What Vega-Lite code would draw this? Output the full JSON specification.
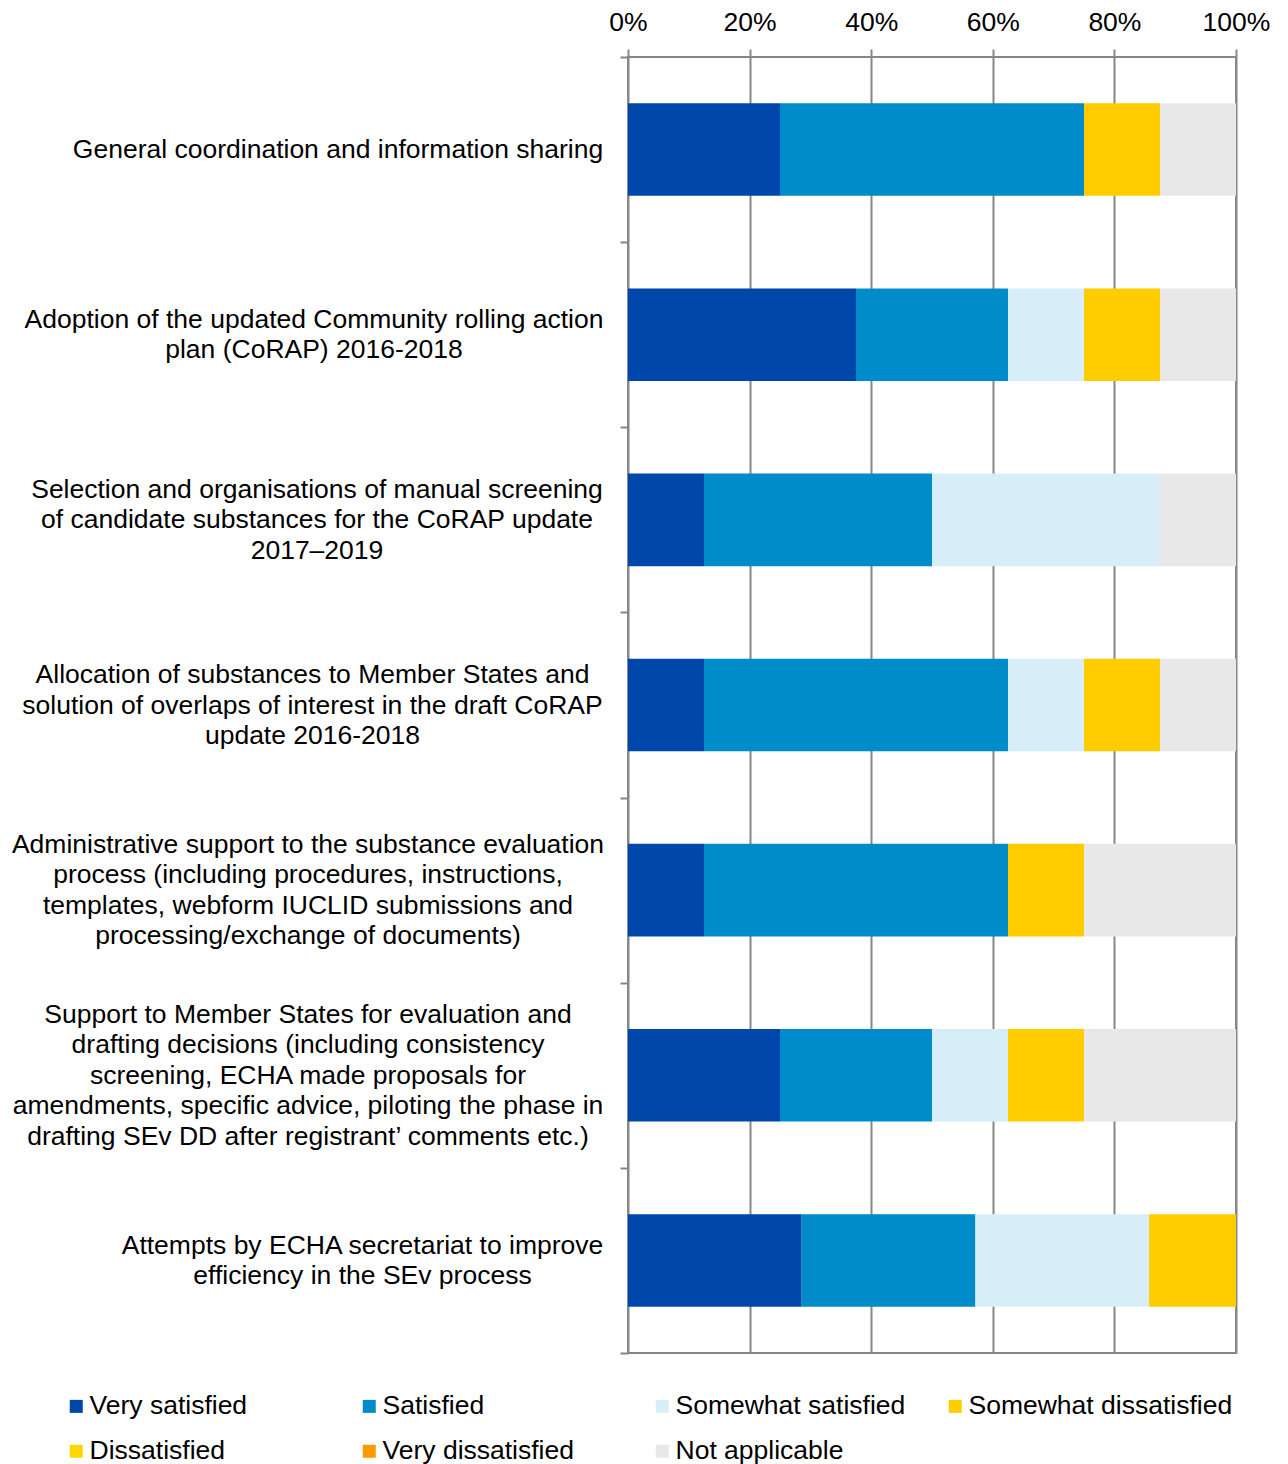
{
  "$schema": "https://vega.github.io/schema/vega-lite/v6.json",
  "width": 608,
  "height": 1296,
  "autosize": {"type": "none"},
  "padding": {"left": 628, "top": 57, "right": 52, "bottom": 111},
  "background": "white",
  "config": {"font": "Liberation Sans", "view": {"stroke": "#878787", "strokeWidth": 2}},
  "data": {"values": [
    {"task": "General coordination and information sharing", "rating": "Very satisfied", "pct": 25},
    {"task": "General coordination and information sharing", "rating": "Satisfied", "pct": 50},
    {"task": "General coordination and information sharing", "rating": "Somewhat dissatisfied", "pct": 12.5},
    {"task": "General coordination and information sharing", "rating": "Not applicable", "pct": 12.5},
    {"task": "Adoption of the updated Community rolling action|plan (CoRAP) 2016-2018", "rating": "Very satisfied", "pct": 37.5},
    {"task": "Adoption of the updated Community rolling action|plan (CoRAP) 2016-2018", "rating": "Satisfied", "pct": 25},
    {"task": "Adoption of the updated Community rolling action|plan (CoRAP) 2016-2018", "rating": "Somewhat satisfied", "pct": 12.5},
    {"task": "Adoption of the updated Community rolling action|plan (CoRAP) 2016-2018", "rating": "Somewhat dissatisfied", "pct": 12.5},
    {"task": "Adoption of the updated Community rolling action|plan (CoRAP) 2016-2018", "rating": "Not applicable", "pct": 12.5},
    {"task": "Selection and organisations of manual screening|of candidate substances for the CoRAP update|2017–2019", "rating": "Very satisfied", "pct": 12.5},
    {"task": "Selection and organisations of manual screening|of candidate substances for the CoRAP update|2017–2019", "rating": "Satisfied", "pct": 37.5},
    {"task": "Selection and organisations of manual screening|of candidate substances for the CoRAP update|2017–2019", "rating": "Somewhat satisfied", "pct": 37.5},
    {"task": "Selection and organisations of manual screening|of candidate substances for the CoRAP update|2017–2019", "rating": "Not applicable", "pct": 12.5},
    {"task": "Allocation of substances to Member States and|solution of overlaps of interest in the draft CoRAP|update 2016-2018", "rating": "Very satisfied", "pct": 12.5},
    {"task": "Allocation of substances to Member States and|solution of overlaps of interest in the draft CoRAP|update 2016-2018", "rating": "Satisfied", "pct": 50},
    {"task": "Allocation of substances to Member States and|solution of overlaps of interest in the draft CoRAP|update 2016-2018", "rating": "Somewhat satisfied", "pct": 12.5},
    {"task": "Allocation of substances to Member States and|solution of overlaps of interest in the draft CoRAP|update 2016-2018", "rating": "Somewhat dissatisfied", "pct": 12.5},
    {"task": "Allocation of substances to Member States and|solution of overlaps of interest in the draft CoRAP|update 2016-2018", "rating": "Not applicable", "pct": 12.5},
    {"task": "Administrative support to the substance evaluation|process (including procedures, instructions,|templates, webform IUCLID submissions and|processing/exchange of documents)", "rating": "Very satisfied", "pct": 12.5},
    {"task": "Administrative support to the substance evaluation|process (including procedures, instructions,|templates, webform IUCLID submissions and|processing/exchange of documents)", "rating": "Satisfied", "pct": 50},
    {"task": "Administrative support to the substance evaluation|process (including procedures, instructions,|templates, webform IUCLID submissions and|processing/exchange of documents)", "rating": "Somewhat dissatisfied", "pct": 12.5},
    {"task": "Administrative support to the substance evaluation|process (including procedures, instructions,|templates, webform IUCLID submissions and|processing/exchange of documents)", "rating": "Not applicable", "pct": 25},
    {"task": "Support to Member States for evaluation and|drafting decisions (including consistency|screening, ECHA made proposals for|amendments, specific advice, piloting the phase in|drafting SEv DD after registrant’ comments etc.)", "rating": "Very satisfied", "pct": 25},
    {"task": "Support to Member States for evaluation and|drafting decisions (including consistency|screening, ECHA made proposals for|amendments, specific advice, piloting the phase in|drafting SEv DD after registrant’ comments etc.)", "rating": "Satisfied", "pct": 25},
    {"task": "Support to Member States for evaluation and|drafting decisions (including consistency|screening, ECHA made proposals for|amendments, specific advice, piloting the phase in|drafting SEv DD after registrant’ comments etc.)", "rating": "Somewhat satisfied", "pct": 12.5},
    {"task": "Support to Member States for evaluation and|drafting decisions (including consistency|screening, ECHA made proposals for|amendments, specific advice, piloting the phase in|drafting SEv DD after registrant’ comments etc.)", "rating": "Somewhat dissatisfied", "pct": 12.5},
    {"task": "Support to Member States for evaluation and|drafting decisions (including consistency|screening, ECHA made proposals for|amendments, specific advice, piloting the phase in|drafting SEv DD after registrant’ comments etc.)", "rating": "Not applicable", "pct": 25},
    {"task": "Attempts by ECHA secretariat to improve|efficiency in the SEv process", "rating": "Very satisfied", "pct": 28.57},
    {"task": "Attempts by ECHA secretariat to improve|efficiency in the SEv process", "rating": "Satisfied", "pct": 28.57},
    {"task": "Attempts by ECHA secretariat to improve|efficiency in the SEv process", "rating": "Somewhat satisfied", "pct": 28.57},
    {"task": "Attempts by ECHA secretariat to improve|efficiency in the SEv process", "rating": "Somewhat dissatisfied", "pct": 14.29}
  ]},
  "transform": [
    {"calculate": "indexof(['Very satisfied', 'Satisfied', 'Somewhat satisfied', 'Somewhat dissatisfied', 'Dissatisfied', 'Very dissatisfied', 'Not applicable'], datum.rating)", "as": "ratingOrder"}
  ],
  "mark": {"type": "bar", "height": {"band": 0.5}},
  "encoding": {
    "y": {
      "field": "task", "type": "nominal", "sort": null,
      "scale": {"paddingInner": 0, "paddingOuter": 0},
      "axis": {
        "title": null, "domain": false, "grid": false,
        "ticks": true, "tickBand": "extent", "tickSize": 8, "tickColor": "#878787", "tickWidth": 2,
        "labelExpr": "split(datum.label, '|')",
        "labelAlign": "center", "labelBaseline": "middle",
        "labelPadding": {"expr": "[282.5,306.5,303.5,308,312.5,312.5,258][round(datum.index*6)]"},
        "labelOffset": {"expr": "[0,-15.25,-30.5,-30.5,-45.75,-61,-15.25][round(datum.index*6)]"},
        "labelFontSize": 26.5, "labelColor": "black", "labelLimit": 0, "labelLineHeight": 30.5,
        "labelOverlap": false, "labelBound": false
      }
    },
    "x": {
      "field": "pct", "type": "quantitative", "stack": "zero",
      "scale": {"domain": [0, 100], "nice": false},
      "axis": {
        "orient": "top", "title": null, "values": [0, 20, 40, 60, 80, 100],
        "labelExpr": "datum.value + '%'", "labelFlush": false,
        "grid": true, "gridColor": "#878787", "gridWidth": 2,
        "domain": false, "ticks": true, "tickSize": 8, "tickColor": "#878787", "tickWidth": 2,
        "labelFontSize": 26.5, "labelPadding": 13, "labelColor": "black"
      }
    },
    "order": {"field": "ratingOrder", "type": "quantitative"},
    "color": {
      "field": "rating", "type": "nominal",
      "scale": {
        "domain": ["Very satisfied", "Satisfied", "Somewhat satisfied", "Somewhat dissatisfied", "Dissatisfied", "Very dissatisfied", "Not applicable"],
        "range": ["#0047AB", "#008BCA", "#D7EEF9", "#FFCC00", "#FFD700", "#FF9900", "#E8E8E8"]
      },
      "legend": {
        "title": null, "orient": "none", "legendX": -565, "legendY": 1336,
        "direction": "horizontal", "columns": 4, "gridAlign": "all",
        "columnPadding": 2, "rowPadding": 18, "padding": 0,
        "symbolType": "square", "symbolSize": 169, "symbolStrokeWidth": 0,
        "labelFontSize": 26.5, "labelOffset": 0, "labelLimit": 0, "labelColor": "black"
      }
    }
  }
}
